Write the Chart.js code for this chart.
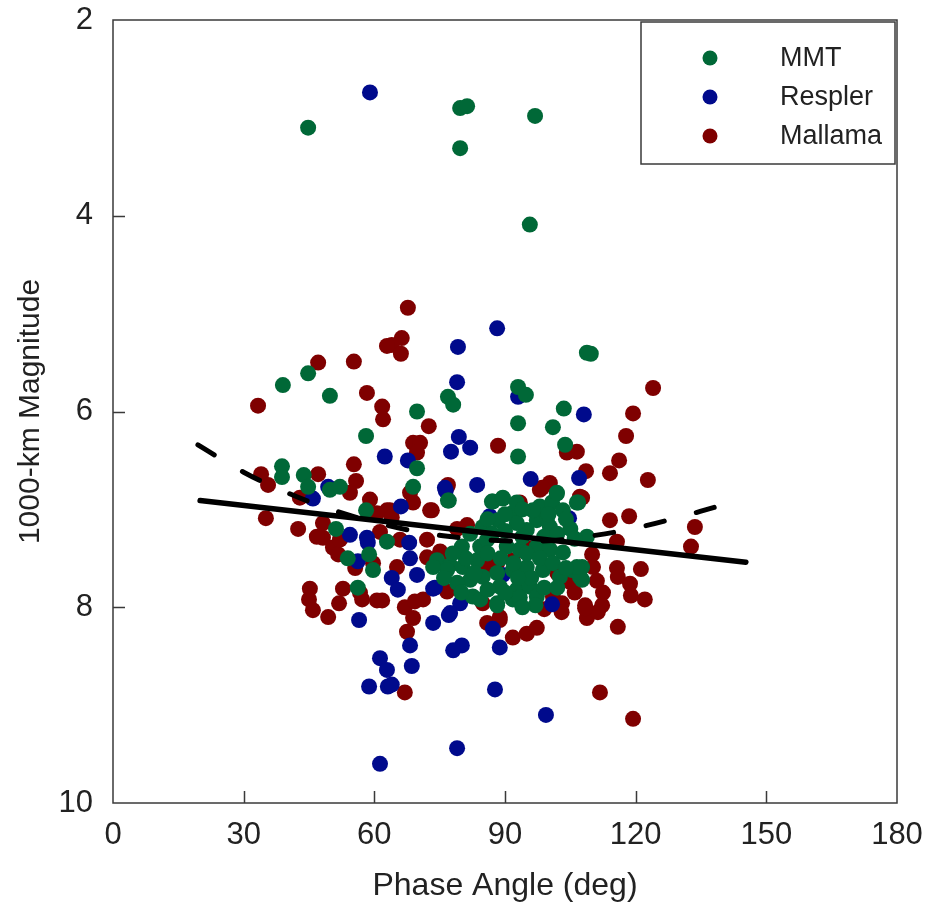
<!DOCTYPE html>
<html>
<head>
<meta charset="utf-8">
<title>1000-km Magnitude vs Phase Angle</title>
<script src="https://cdn.jsdelivr.net/npm/chart.js@4.4.1/dist/chart.umd.min.js"></script>
<style>
  html, body { margin: 0; padding: 0; background: #fff; }
  #wrap { width: 925px; height: 905px; }
</style>
</head>
<body>
<div id="wrap"><canvas id="magChart" width="925" height="905"></canvas></div>
<script>
// [phase angle (deg), 1000-km magnitude]
const mmtPoints = [
  [44.8,3.10],[79.7,2.90],[81.3,2.88],[79.7,3.31],[96.9,2.98],[95.7,4.09],[109.7,5.41],
  [44.8,5.61],[39.0,5.73],[49.8,5.84],[58.1,6.25],[38.8,6.56],[38.8,6.67],[43.8,6.65],
  [44.8,6.77],[49.8,6.80],[52.1,6.77],[58.1,7.01],[51.2,7.20],
  [108.8,5.40],[93.0,5.75],[94.8,5.83],[76.9,5.85],[78.1,5.93],[69.8,6.00],[103.5,5.97],
  [93.0,6.12],[101.0,6.16],[103.8,6.34],[93.0,6.46],[69.8,6.58],[68.9,6.77],[76.9,6.91],
  [101.9,6.84],[87.0,6.92],[89.5,6.89],[106.8,6.93],
  [108.8,7.28],[107.7,7.59],[107.7,7.72],
  [53.9,7.50],[58.8,7.46],[59.7,7.62],[56.2,7.80],[62.9,7.33],
  [77.1,6.91],[87.2,6.92],[89.5,6.88],[92.7,6.93],[91.6,7.04],[88.4,7.11],[84.9,7.18],
  [98.0,6.97],[100.8,6.93],[101.9,6.83],[103.3,7.01],[106.5,6.93],[97.3,7.11],[100.3,7.18],
  [95.0,7.21],[80.1,7.38],[74.4,7.52],[77.4,7.57],[80.3,7.59],[83.6,7.52],[84.3,7.38],
  [85.9,7.31],[90.4,7.38],[93.4,7.41],[97.3,7.38],[100.3,7.41],[103.3,7.44],[105.4,7.62],
  [102.6,7.69],[98.7,7.62],[95.0,7.59],[91.8,7.62],[88.2,7.65],[84.9,7.69],[82.0,7.72],
  [79.0,7.75],[88.8,7.79],[92.7,7.82],[95.7,7.79],[82.6,7.89],[88.2,7.96],[91.8,7.92],
  [97.3,7.89],[76.7,7.62],[73.5,7.59],
  [84.3,7.92],[88.2,7.98],[93.4,7.90],[107.2,7.69],[106.5,7.59],
  [96.4,7.01],[99.6,7.11],[92.7,7.14],
  [86.0,7.45],[89.0,7.50],[92.0,7.55],[95.0,7.45],[98.0,7.50],[101.0,7.55],[104.0,7.60],
  [87.0,7.25],[90.0,7.22],[94.0,7.28],[99.0,7.28],[102.0,7.25],[105.0,7.20],[96.0,7.70],
  [99.0,7.80],[102.0,7.80],[93.0,7.70],[90.0,7.85],[86.0,7.82],[83.0,7.65],[81.0,7.50],
  [104.0,7.10],[106.0,7.30],[100.0,7.05],[94.0,7.00],[90.0,7.05],[86.0,7.10],[82.0,7.25],
  [78.0,7.45],[76.0,7.70],[80.0,7.85],[97.0,7.98],[94.0,8.00]
];

const resplerPoints = [
  [59.0,2.74],[88.2,5.15],[79.2,5.34],[79.0,5.70],[93.0,5.85],[108.1,6.03],
  [79.4,6.26],[82.0,6.37],[77.6,6.41],[62.4,6.46],[67.7,6.50],[95.9,6.69],[107.0,6.68],
  [83.6,6.75],[76.4,6.81],[66.1,6.97],[86.5,7.07],[104.7,7.09],
  [45.9,6.89],[49.4,6.77],[54.4,7.26],[58.3,7.29],
  [58.5,7.34],[56.2,7.53],[56.5,8.13],[61.3,8.52],[62.9,8.64],[58.8,8.81],[63.1,8.81],[61.3,9.60],
  [68.0,7.34],[68.2,7.50],[69.8,7.67],[64.0,7.70],[65.4,7.82],[73.5,7.81],[79.7,7.96],
  [77.1,8.08],[73.5,8.16],[87.2,8.22],[100.8,7.97],[68.2,8.39],[80.1,8.39],[78.1,8.44],
  [88.8,8.41],[68.6,8.60],[64.0,8.79],[87.7,8.84],[99.4,9.10],[79.0,9.44],
  [76.2,6.78],[73.9,7.80],[77.4,8.06],[89.5,7.67]
];

const mallamaPoints = [
  [67.7,4.94],[66.3,5.25],[64.0,5.32],[66.1,5.41],[62.9,5.33],[47.1,5.50],[55.3,5.49],
  [33.3,5.94],[58.3,5.81],[61.8,5.95],[62.0,6.08],[55.3,6.54],[55.8,6.71],[47.1,6.64],
  [34.0,6.64],[35.6,6.75],[35.1,7.09],[42.9,6.88],[42.5,7.20],[62.9,7.01],[59.0,6.90],
  [54.4,6.83],[61.3,7.23],[48.2,7.14],
  [72.5,6.15],[68.9,6.32],[70.5,6.32],[69.8,6.42],[88.4,6.35],[106.5,6.41],[104.2,6.42],
  [98.0,6.80],[100.3,6.73],[76.7,6.77],[68.2,6.83],[68.9,6.93],[63.6,7.01],[72.8,7.01],
  [93.4,6.93],[107.2,6.87],
  [124.0,5.76],[119.4,6.02],[117.8,6.25],[116.2,6.50],[114.1,6.63],[122.8,6.70],[108.6,6.61],
  [114.1,7.11],[118.5,7.07],[133.6,7.18],[107.7,6.88],
  [132.7,7.38],[115.7,7.60],[115.9,7.69],[121.2,7.61],[118.7,7.76],[118.9,7.88],[122.1,7.92],
  [111.1,7.73],[112.5,7.85],[112.3,7.98],[108.4,7.98],[108.8,8.11],[111.3,8.05],[115.9,8.20],
  [111.8,8.87],[119.4,9.14],[115.7,7.33],[110.0,7.46],[110.2,7.59],
  [48.2,7.29],[50.5,7.39],[51.7,7.46],[45.2,7.81],[45.0,7.92],[45.9,8.03],[49.4,8.10],
  [52.8,7.81],[51.9,7.96],[56.7,7.85],[57.2,7.92],[60.6,7.93],[55.6,7.60],[59.7,7.55],
  [61.8,7.93],[67.0,8.00],[69.3,7.94],[71.2,7.92],[68.9,8.11],[67.5,8.25],[85.9,8.16],
  [88.8,8.13],[91.8,8.31],[95.0,8.27],[97.3,8.21],[67.0,8.87],[103.1,7.96],[108.4,8.01],
  [65.2,7.59],[72.1,7.49],[75.1,7.49],[84.9,7.96],[88.2,7.55],[104.9,7.74],
  [73.2,7.01],[76.9,6.75],[81.3,7.16],[98.5,6.78],[87.7,7.55],[91.8,7.52],[101.0,7.89],
  [88.8,8.10],[75.1,7.43],[76.7,7.84],
  [46.8,7.28],[52.1,7.31],[60.6,7.04],[64.0,7.08],[65.9,7.31],[72.1,7.31],
  [106.0,7.85],[103.0,8.05],[99.0,8.02],[96.0,7.40],[102.0,7.65],[86.0,7.60],[79.0,7.20]
];

// linear fit (solid) and curved fit (dashed)
const fitLine = [[20,6.91],[145.3,7.54]];
const fitCurve = [
  [19.5,6.34],[30,6.62],[40,6.83],[50,7.00],[60,7.13],[70,7.23],[80,7.29],
  [90,7.32],[100,7.32],[110,7.27],[120,7.19],[130,7.08],[139.6,6.96]
];

const xTicks = [0, 30, 60, 90, 120, 150, 180];
const yTicks = [2, 4, 6, 8, 10];

const toXY = arr => arr.map(p => ({ x: p[0], y: p[1] }));
const FONT = "'Liberation Sans', Arial, sans-serif";
const INK = '#222';

// frame, inward ticks and boxed legend
const framePlugin = {
  id: 'frame',
  afterDatasetsDraw(chart) {
    const { ctx, chartArea: a, scales } = chart;
    ctx.save();
    ctx.strokeStyle = '#3a3a3a';
    ctx.lineWidth = 1.5;
    ctx.strokeRect(a.left, a.top, a.right - a.left, a.bottom - a.top);
    ctx.beginPath();
    xTicks.slice(1, -1).forEach(v => {
      const px = Math.round(scales.x.getPixelForValue(v)) + 0.5;
      ctx.moveTo(px, a.bottom);
      ctx.lineTo(px, a.bottom - 12);
    });
    yTicks.slice(1, -1).forEach(v => {
      const py = Math.round(scales.y.getPixelForValue(v)) + 0.5;
      ctx.moveTo(a.left, py);
      ctx.lineTo(a.left + 12, py);
    });
    ctx.stroke();

    // legend box
    const bx = 641, by = 22, bw = 254, bh = 142;
    ctx.fillStyle = '#fff';
    ctx.fillRect(bx, by, bw, bh);
    ctx.strokeRect(bx, by, bw, bh);
    ctx.font = '27px ' + FONT;
    ctx.textBaseline = 'middle';
    ctx.textAlign = 'left';
    const rows = [58, 97, 136];
    chart.data.datasets.filter(d => d.inLegend).forEach((d, i) => {
      ctx.fillStyle = d.backgroundColor;
      ctx.beginPath();
      ctx.arc(710, rows[i], 7.5, 0, Math.PI * 2);
      ctx.fill();
      ctx.fillStyle = INK;
      ctx.fillText(d.label, 780, rows[i] + 1);
    });
    ctx.restore();
  }
};

const ptStyle = color => ({
  backgroundColor: color,
  borderWidth: 0,
  pointRadius: 8,
  pointHoverRadius: 8,
  inLegend: true
});

new Chart(document.getElementById('magChart').getContext('2d'), {
  type: 'scatter',
  data: {
    datasets: [
      { label: 'Fit', data: toXY(fitLine), showLine: true, pointRadius: 0,
        borderColor: '#000', borderWidth: 5.5, borderCapStyle: 'round', order: 0 },
      { label: 'Curve', data: toXY(fitCurve), showLine: true, pointRadius: 0, tension: 0.4,
        borderColor: '#000', borderWidth: 5, borderDash: [19, 33], borderCapStyle: 'round', order: 0 },
      Object.assign({ label: 'MMT', data: toXY(mmtPoints), order: 1 }, ptStyle('#006837')),
      Object.assign({ label: 'Respler', data: toXY(resplerPoints), order: 2 }, ptStyle('#000a8c')),
      Object.assign({ label: 'Mallama', data: toXY(mallamaPoints), order: 3 }, ptStyle('#7f0000'))
    ]
  },
  options: {
    responsive: false,
    animation: false,
    layout: { padding: { top: 20, right: 28, left: 0, bottom: 0 } },
    plugins: { legend: { display: false }, tooltip: { enabled: false } },
    scales: {
      x: {
        type: 'linear', min: 0, max: 180,
        afterFit: s => { s.height = 102; s.paddingLeft = 0; s.paddingRight = 0; },
        afterBuildTicks: s => { s.ticks = xTicks.map(v => ({ value: v })); },
        grid: { display: false },
        border: { display: false },
        ticks: { color: INK, font: { family: FONT, size: 31 }, padding: 6, maxRotation: 0 },
        title: { display: true, text: 'Phase Angle (deg)', color: INK,
                 font: { family: FONT, size: 32 }, padding: { top: 0, bottom: 0 } }
      },
      y: {
        type: 'linear', min: 2, max: 10, reverse: true,
        afterFit: s => { s.width = 113; s.paddingTop = 0; s.paddingBottom = 0; },
        afterBuildTicks: s => { s.ticks = yTicks.map(v => ({ value: v })); },
        grid: { display: false },
        border: { display: false },
        ticks: { color: INK, font: { family: FONT, size: 31 }, padding: 12 },
        title: { display: true, text: '1000-km Magnitude', color: INK,
                 font: { family: FONT, size: 30 }, padding: { top: 13, bottom: 0 } }
      }
    }
  },
  plugins: [framePlugin]
});
</script>
</body>
</html>
